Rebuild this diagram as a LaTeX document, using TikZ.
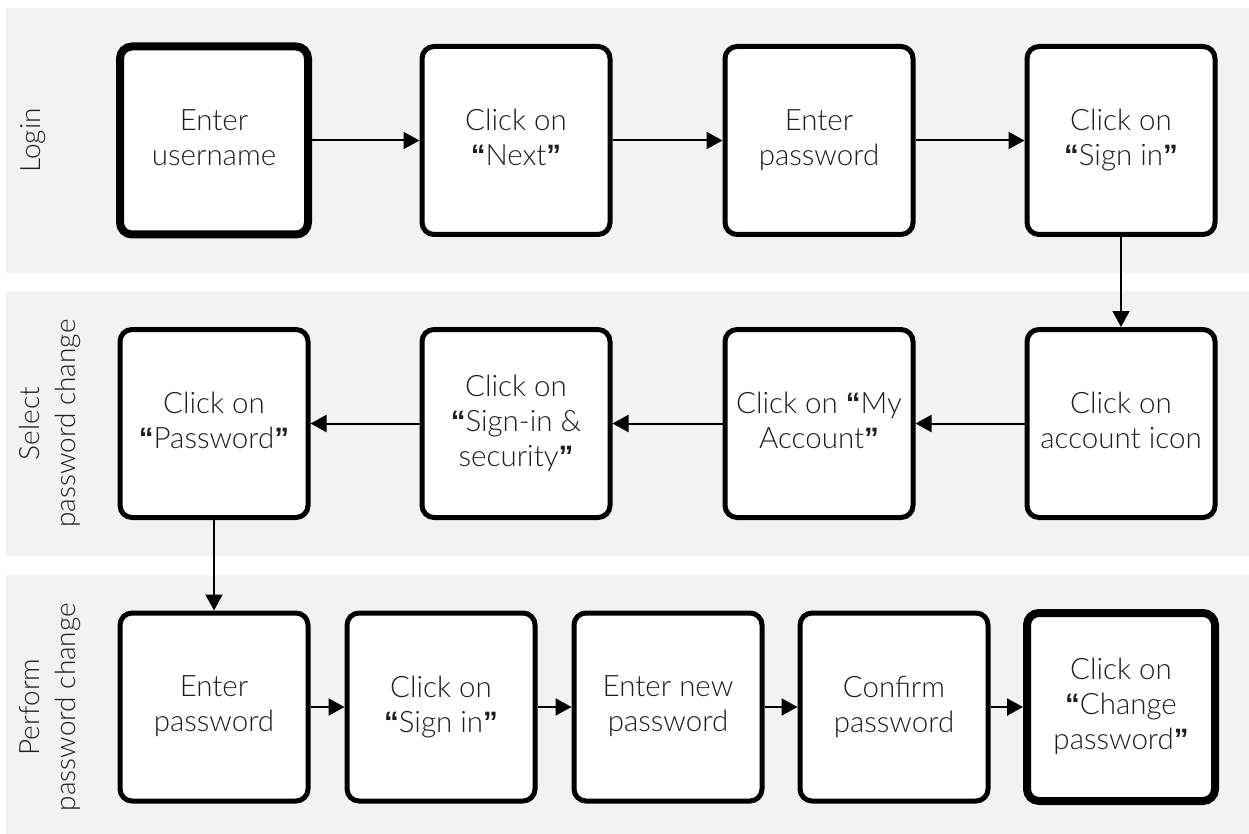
\documentclass[tikz,border=0pt]{standalone}
\usepackage{fontspec}
\setmainfont{Lato Light}
\newfontfamily\qfont{Liberation Sans}
\usetikzlibrary{arrows.meta}
\definecolor{lanegray}{HTML}{F2F2F2}
\definecolor{inkgray}{HTML}{1E1E1E}
\newcommand\opq{{\qfont\bfseries “}}
\newcommand\clq{{\qfont\bfseries ”}}
% invisible line strut: keeps every box's text block the same height
\newcommand\boxstrut{\rule[-6pt]{0pt}{34pt}}
\tikzset{
  lane/.style={fill=lanegray, draw=none},
  stepbox/.style={draw=black, fill=white, line width=5pt, rounded corners=12pt,
    minimum width=188pt, minimum height=188pt, align=center, text=inkgray,
    font=\fontsize{29.5}{35}\selectfont,
    execute at begin node=\boxstrut, execute at end node=\boxstrut},
  endbox/.style={stepbox, line width=8pt},
  lanelabel/.style={rotate=90, align=center, text=inkgray,
    font=\fontsize{28}{36}\selectfont},
  flow/.style={line width=2pt, -{Triangle[length=16pt,width=17pt]}},
}
\begin{document}
\begin{tikzpicture}[x=1pt, y=-1pt]
\useasboundingbox (0,0) rectangle (1249,834);
% swimlanes
\fill[lane] (6,8) rectangle (1249,273);
\fill[lane] (6,291) rectangle (1249,556);
\fill[lane] (6,575) rectangle (1249,834);
\node[lanelabel] (lbl1) at (33,140.5) {Login};
\node[lanelabel] (lbl2) at (50,423.5) {Select\\password change};
\node[lanelabel] (lbl3) at (50,707) {Perform\\password change};
% login
\node[endbox]  (u1) at (214,140.5) {Enter\\username};
\node[stepbox] (u2) at (516,140.5) {Click on\\\opq Next\clq};
\node[stepbox] (u3) at (819,140.5) {Enter\\password};
\node[stepbox] (u4) at (1121,140.5) {Click on\\\opq Sign in\clq};
% select password change
\node[stepbox] (s1) at (1121,423.5) {Click on\\account icon};
\node[stepbox] (s2) at (819,423.5) {Click on \opq My\\Account\clq};
\node[stepbox] (s3) at (516,423.5) {Click on\\\opq Sign-in \&\\security\clq};
\node[stepbox] (s4) at (214,423.5) {Click on\\\opq Password\clq};
% perform password change
\node[stepbox] (p1) at (214,707) {Enter\\password};
\node[stepbox] (p2) at (441,707) {Click on\\\opq Sign in\clq};
\node[stepbox] (p3) at (668,707) {Enter new\\password};
\node[stepbox] (p4) at (894,707) {Confirm\\password};
\node[endbox]  (p5) at (1121,707) {Click on\\\opq Change\\password\clq};
% connectors
\draw[flow] (u1) -- (u2);
\draw[flow] (u2) -- (u3);
\draw[flow] (u3) -- (u4);
\draw[flow] (u4) -- (s1);
\draw[flow] (s1) -- (s2);
\draw[flow] (s2) -- (s3);
\draw[flow] (s3) -- (s4);
\draw[flow] (s4) -- (p1);
\draw[flow] (p1) -- (p2);
\draw[flow] (p2) -- (p3);
\draw[flow] (p3) -- (p4);
\draw[flow] (p4) -- (p5);
\end{tikzpicture}
\end{document}
